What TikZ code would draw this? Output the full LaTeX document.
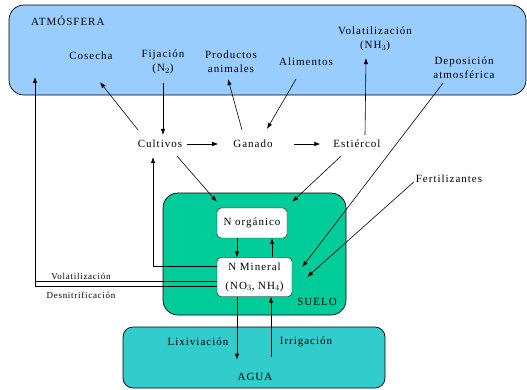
\documentclass[tikz,border=0pt]{standalone}
\usepackage{fontspec}
\setmainfont{Liberation Serif}[LetterSpace=9]
\usetikzlibrary{arrows.meta}

\definecolor{atmcol}{HTML}{99CCFF}
\definecolor{suelocol}{HTML}{00CC99}
\definecolor{aguacol}{HTML}{33CCCC}

\tikzset{
  lbl/.style={font=\fontsize{11}{14}\selectfont,align=center,inner sep=1pt},
  sml/.style={font=\fontsize{9}{10}\selectfont\addfontfeature{LetterSpace=8},inner sep=1pt},
  caja/.style={draw,fill=white,rounded corners=4pt,align=center,inner sep=1pt,
    font=\fontsize{11}{12}\selectfont},
  arr/.style={-{Latex[length=6pt,width=4.5pt]},line width=.6pt},
  zona/.style={draw,line width=.7pt,rounded corners=15pt}
}

\begin{document}
\begin{tikzpicture}[x=1pt,y=-1pt]
\useasboundingbox (0,0) rectangle (527,389);
% zonas
\draw[zona,fill=atmcol] (9,5) rectangle (526,95);
\draw[zona,fill=suelocol] (163,193) rectangle (346,315);
\draw[zona,fill=aguacol,rounded corners=10pt] (123,327) rectangle (385,388);
% atmosfera
\node[lbl,anchor=west] (atmlbl) at (30,21) {ATMÓSFERA};
\node[lbl] (cosecha) at (91,56) {Cosecha};
\node[lbl] (fijacion) at (163,62) {Fijación\\(N$_2$)};
\node[lbl] (prod) at (231,62) {Productos\\animales};
\node[lbl] (alim) at (306,62) {Alimentos};
\node[lbl] (volat) at (375,39) {Volatilización\\(NH$_3$)};
\node[lbl] (depos) at (464,68) {Deposición\\atmosférica};
% fila central
\node[lbl] (cult) at (160,144) {Cultivos};
\node[lbl] (gan) at (253,144) {Ganado};
\node[lbl] (esti) at (357,144) {Estiércol};
\node[lbl] (fert) at (449,179) {Fertilizantes};
% suelo
\node[caja,minimum width=70pt,minimum height=30pt] (norg) at (252,223) {N orgánico};
\node[caja,minimum width=75pt,minimum height=39pt] (nmin) at (254.5,277) {N Mineral\\[7pt](NO$_3$, NH$_4$)};
\node[lbl] (suelo) at (317,302) {SUELO};
% agua
\node[lbl] (lixi) at (198,342) {Lixiviación};
\node[lbl] (irrig) at (306,342) {Irrigación};
\node[lbl] (agua) at (255,377) {AGUA};
\node[sml] (volat2) at (81,276) {Volatilización};
\node[sml] (desni) at (81,295) {Desnitrificación};
\coordinate (atmvol) at (35,77);
\coordinate (volpt) at ([shift={(0,4.5)}]nmin.west);

\draw[arr] ([shift={(-22,-9)}]cult.north) -- ([shift={(9,21)}]cosecha.south);
\draw[arr] ([shift={(0,8)}]fijacion.south) -- ([shift={(3,-4)}]cult.north);
\draw[arr] ([shift={(-11,-9)}]gan.north) -- ([shift={(-3,5)}]prod.south);
\draw[arr] ([shift={(-10,12)}]alim.south) -- ([shift={(14,-10)}]gan.north);
\draw[arr] ([shift={(8,-4)}]esti.north) -- ([shift={(-9,6)}]volat.south);
\draw[arr] ([shift={(-21,3)}]depos.south) -- ([shift={(10,-10)}]nmin.east);
\draw[arr] ([shift={(-1,-2)}]fert.south west) -- ([shift={(15,0)}]nmin.east);
\draw[arr] ([shift={(4,0)}]cult.east) -- ([shift={(-14,0)}]gan.west);
\draw[arr] ([shift={(20,0)}]gan.east) -- ([shift={(-12,0)}]esti.west);
\draw[arr] ([shift={(17,7)}]cult.south) -- ([shift={(0,-6)}]norg.north west);
\draw[arr] ([shift={(-16,7)}]esti.south) -- ([shift={(5,-6)}]norg.north east);
\draw[arr] ([xshift=-15pt]norg.south) -- ([xshift=-15pt]norg.south |- nmin.north);
\draw[arr] ([xshift=20pt]norg.south |- nmin.north) -- ([xshift=20pt]norg.south);
\draw[arr] ([shift={(0,-11)}]nmin.west) -| ([shift={(-7,8)}]cult.south);
\draw[line width=.6pt] (volpt) -- (atmvol |- volpt);
\draw[arr] ([shift={(0,9)}]nmin.west) -| (atmvol);
\draw[arr] ([xshift=-15pt]norg.south |- nmin.south) -- ++(0,63);
\draw[arr] ([xshift=19pt]norg.south |- agua.north) ++(0,-15) -- ([xshift=19pt]norg.south |- nmin.south);
\end{tikzpicture}
\end{document}
